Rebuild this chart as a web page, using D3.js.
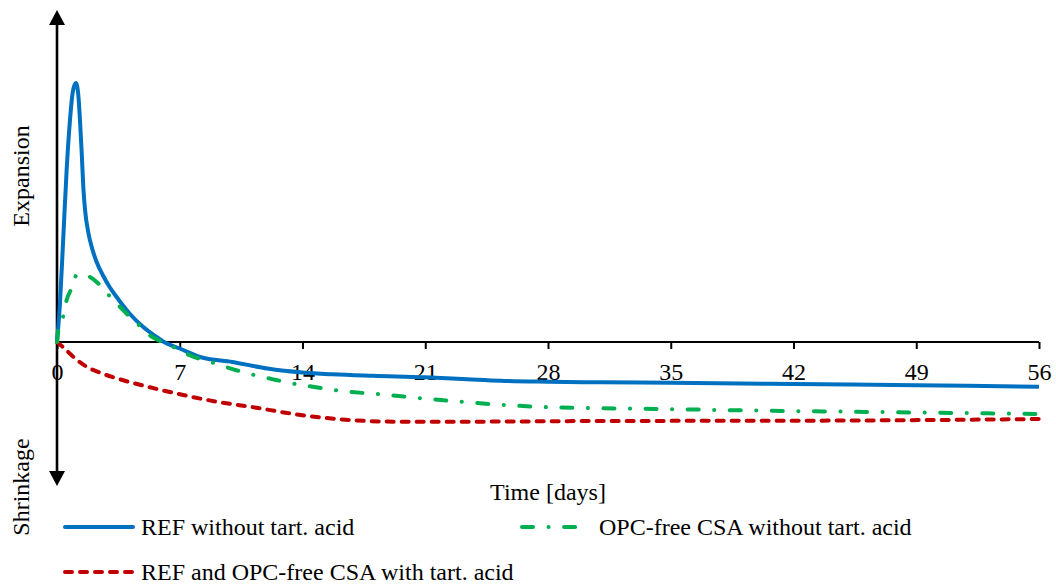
<!DOCTYPE html>
<html>
<head>
<meta charset="utf-8">
<script src="https://cdn.jsdelivr.net/npm/d3@7"></script>
<style>
  html, body { margin: 0; padding: 0; background: #fff; }
  svg { display: block; font-family: "Liberation Serif", "Times New Roman", serif; }
</style>
</head>
<body>
<svg id="chart" width="1056" height="585"></svg>
<script>
// Time axis ticks (days)
const xTicks = [0, 7, 14, 21, 28, 35, 42, 49, 56];

// Relative deformation (arbitrary units; positive = expansion)
const refDays = [0, 0.17, 0.36, 0.55, 0.74, 0.89, 1.0, 1.08, 1.16, 1.22, 1.31, 1.41, 1.5, 1.6, 1.79, 1.98, 2.26, 2.64, 3.0, 3.4, 4.16, 4.92, 5.68, 6.1, 7.0, 8.16, 10, 12, 14, 15.7, 18, 21, 23.4, 25.3, 28, 31, 35, 42, 49, 56];
const refValues = [0, 3.9, 10.5, 17.2, 22.2, 24.9, 25.7, 25.9, 25.5, 24.6, 22.2, 18.9, 15.5, 13.2, 10.9, 9.5, 8.0, 6.6, 5.5, 4.5, 2.8, 1.5, 0.5, 0.0, -0.65, -1.5, -2.0, -2.65, -3.05, -3.23, -3.38, -3.53, -3.73, -3.88, -3.97, -4.03, -4.07, -4.2, -4.33, -4.47];

const opcDays = [0, 0.08, 0.36, 0.55, 0.84, 1.12, 1.5, 1.88, 2.45, 3.0, 3.6, 4.16, 4.73, 5.4, 5.97, 7.0, 7.6, 8.35, 9.0, 9.87, 10.8, 11.4, 12.5, 13.3, 14.6, 16.1, 18.6, 21, 23.4, 25.8, 28.2, 30, 33.1, 35.5, 40.3, 45.2, 50, 56];
const opcValues = [0, 1.2, 2.63, 4.2, 5.4, 6.7, 6.75, 6.5, 5.7, 4.6, 3.5, 2.5, 1.6, 0.53, 0.03, -0.8, -1.35, -1.8, -2.13, -2.63, -3.1, -3.37, -3.8, -4.1, -4.47, -4.87, -5.25, -5.67, -6.03, -6.33, -6.53, -6.6, -6.67, -6.73, -6.87, -6.97, -7.07, -7.2];

const tartDays = [0, 0.2, 0.55, 1.0, 1.69, 2.5, 3.4, 5.3, 7.2, 9.1, 11.0, 13.9, 16.7, 19.6, 22.4, 31, 42.4, 50, 56];
const tartValues = [0, -0.3, -0.85, -1.6, -2.47, -3.1, -3.63, -4.53, -5.3, -5.97, -6.47, -7.3, -7.8, -7.97, -7.97, -7.9, -7.87, -7.8, -7.7];

const seriesNames = [
  "REF without tart. acid",
  "OPC-free CSA without tart. acid",
  "REF and OPC-free CSA with tart. acid"
];
const seriesColors = ["#0070C0", "#00B050", "#C00000"];

const svg = d3.select("#chart");

const x = d3.scaleLinear().domain([0, 56]).range([57, 1039]);
const y = d3.scaleLinear().domain([-14.4, 33.2]).range([486, 10]);

const series = [
  { name: seriesNames[0], color: seriesColors[0], dash: null,
    pts: refDays.map((d, i) => [d, refValues[i]]) },
  { name: seriesNames[1], color: seriesColors[1], dash: "11,15.5,0.1,15.5",
    pts: opcDays.map((d, i) => [d, opcValues[i]]) },
  { name: seriesNames[2], color: seriesColors[2], dash: "7,8",
    pts: tartDays.map((d, i) => [d, tartValues[i]]) }
];

// Horizontal time axis through zero
const xAxis = d3.axisBottom(x)
  .tickValues(xTicks)
  .tickSize(7)
  .tickPadding(14)
  .tickFormat(d3.format("d"));

const gx = svg.append("g")
  .attr("transform", `translate(0,${y(0)})`)
  .call(xAxis);
gx.select(".domain").attr("stroke", "#000").attr("stroke-width", 2.2).attr("d", `M${x(0)},0H${x(56)}`);
gx.selectAll(".tick line").attr("stroke", "#000").attr("stroke-width", 2);
gx.selectAll(".tick text")
  .attr("fill", "#000")
  .attr("font-family", "Liberation Serif, Times New Roman, serif")
  .attr("font-size", 24);

// Vertical double arrow
const yTop = y(33.2), yBot = y(-14.4), ax = x(0);
svg.append("line")
  .attr("x1", ax).attr("x2", ax)
  .attr("y1", yTop + 12).attr("y2", yBot - 12)
  .attr("stroke", "#000").attr("stroke-width", 2.6);
svg.append("path")
  .attr("d", `M${ax},${yTop}L${ax - 8},${yTop + 15}L${ax + 8},${yTop + 15}Z`)
  .attr("fill", "#000");
svg.append("path")
  .attr("d", `M${ax},${yBot}L${ax - 8},${yBot - 15}L${ax + 8},${yBot - 15}Z`)
  .attr("fill", "#000");

// Curves
const line = d3.line()
  .x(d => x(d[0]))
  .y(d => y(d[1]))
  .curve(d3.curveMonotoneX);

[series[2], series[0], series[1]].forEach(s => {
  svg.append("path")
    .datum(s.pts)
    .attr("d", line)
    .attr("fill", "none")
    .attr("stroke", s.color)
    .attr("stroke-width", 4)
    .attr("stroke-linecap", s.dash ? "round" : "butt")
    .attr("stroke-linejoin", "round")
    .attr("stroke-dasharray", s.dash);
});

// Axis titles
svg.append("text")
  .attr("x", 548).attr("y", 500)
  .attr("text-anchor", "middle")
  .attr("font-size", 24)
  .text("Time [days]");

svg.append("text")
  .attr("transform", "translate(29,176) rotate(-90)")
  .attr("text-anchor", "middle")
  .attr("font-size", 24)
  .text("Expansion");

svg.append("text")
  .attr("transform", "translate(29,487) rotate(-90)")
  .attr("text-anchor", "middle")
  .attr("font-size", 24)
  .text("Shrinkage");

// Legend
const legendPos = [
  { lx: 65, ly: 527, len: 68 },
  { lx: 522, ly: 527, len: 57 },
  { lx: 65, ly: 572, len: 68 }
];
series.forEach((s, i) => {
  const p = legendPos[i];
  svg.append("line")
    .attr("x1", p.lx).attr("x2", p.lx + p.len)
    .attr("y1", p.ly).attr("y2", p.ly)
    .attr("stroke", s.color)
    .attr("stroke-width", 4)
    .attr("stroke-linecap", "round")
    .attr("stroke-dasharray", s.dash);
  svg.append("text")
    .attr("x", p.lx + p.len + (i === 1 ? 20 : 8))
    .attr("y", p.ly + 8)
    .attr("font-size", 24)
    .text(s.name);
});
</script>
</body>
</html>
